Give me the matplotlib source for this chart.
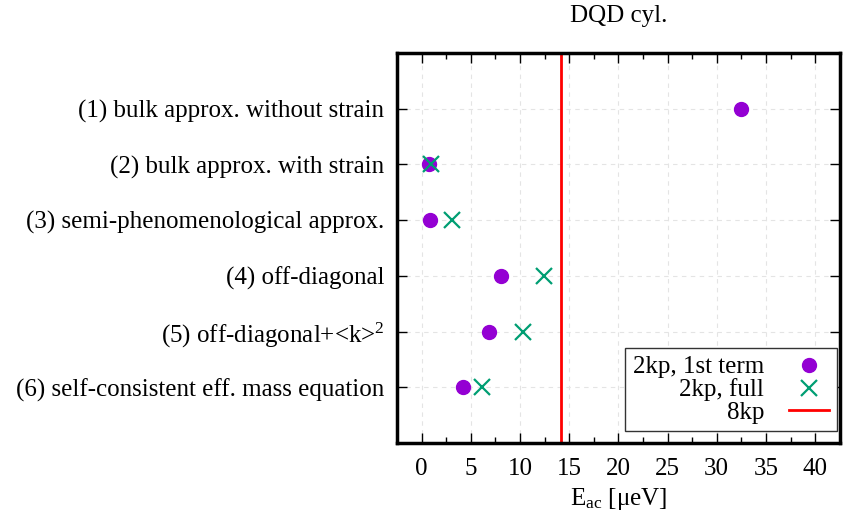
import matplotlib
matplotlib.use("Agg")
import matplotlib.pyplot as plt
from matplotlib.ticker import MultipleLocator

methods = [
    "(1) bulk approx. without strain",
    "(2) bulk approx. with strain",
    "(3) semi-phenomenological approx.",
    "(4) off-diagonal",
    "(5) off-diagonal+<k>$^2$",
    "(6) self-consistent eff. mass equation",
]
first_term = [32.5, 0.8, 0.9, 8.1, 6.9, 4.2]
full = [None, 1.0, 3.1, 12.4, 10.3, 6.1]
e_8kp = 14.2

plt.rcParams["font.family"] = ["Liberation Serif", "DejaVu Serif"]
plt.rcParams["mathtext.fontset"] = "custom"
plt.rcParams["mathtext.rm"] = "Liberation Serif"
plt.rcParams["mathtext.it"] = "Liberation Serif:italic"

fs = 18
fig = plt.figure(figsize=(8.63, 5.25), dpi=100)
ax = fig.add_axes([0.46, 0.156, 0.513, 0.743])

rows = list(range(1, len(methods) + 1))
ax.plot(first_term, rows, "o", color="#9400d3", ms=10, ls="none",
        label="2kp, 1st term", zorder=3)
fr = [(v, r) for v, r in zip(full, rows) if v is not None]
ax.plot([v for v, _ in fr], [r for _, r in fr], "x", color="#009e73",
        ms=12, mew=1.6, ls="none", label="2kp, full", zorder=4)
ax.axvline(e_8kp, color="#ff0000", lw=2, label="8kp", zorder=2)

ax.set_xlim(-2.5, 42.5)
ax.set_ylim(7, 0)
ax.set_yticks(rows)
ax.set_yticklabels(methods)
ax.xaxis.set_major_locator(MultipleLocator(5))
ax.xaxis.set_minor_locator(MultipleLocator(2.5))
ax.tick_params(which="both", direction="in", top=True, right=True,
               labelsize=fs)
ax.tick_params(axis="y", pad=9)
ax.tick_params(axis="x", pad=11)
ax.tick_params(which="major", length=7, width=1)
ax.tick_params(which="minor", length=4, width=1)
ax.grid(True, which="major", ls=(0, (4, 4)), color="#e4e4e4", lw=0.8)
for s in ax.spines.values():
    s.set_linewidth(2.5)

ax.set_xlabel(r"E$_{\rm ac}$ [μeV]", fontsize=fs, labelpad=4)
ax.set_title("DQD cyl.", fontsize=fs, pad=22)

leg = ax.legend(loc="lower right", bbox_to_anchor=(0.993, 0.03),
                markerfirst=False, fontsize=fs,
                fancybox=False, framealpha=1, edgecolor="#333333",
                handlelength=1.6, borderaxespad=0.0, labelspacing=0.0,
                borderpad=0.3, handletextpad=1.0)
leg.get_frame().set_linewidth(1)
for t in leg.get_texts():
    t.set_ha("right")

fig.savefig("out.png", dpi=100)
